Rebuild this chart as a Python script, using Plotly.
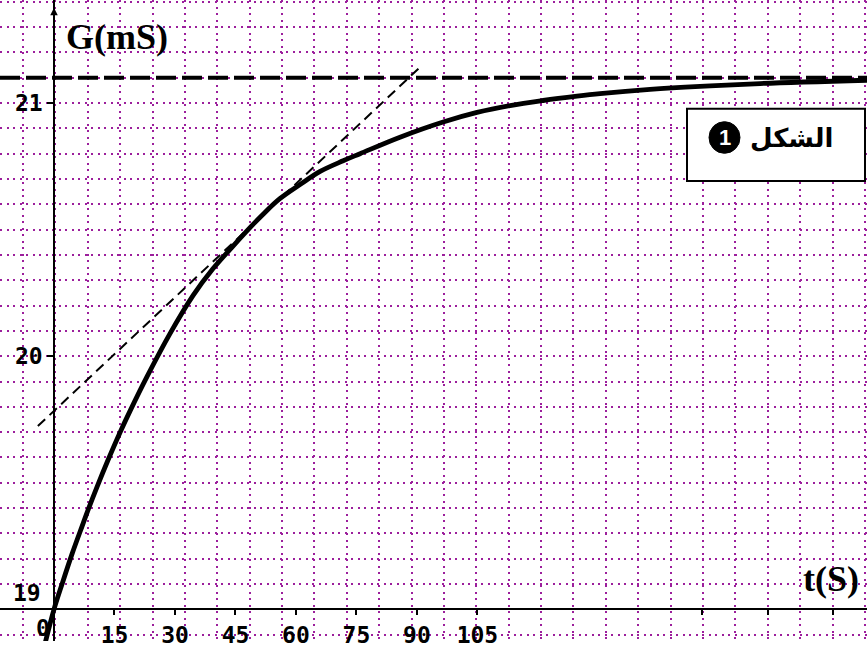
import plotly.graph_objects as go

# ---- data ----
t_curve = [-2.3, 0.0, 2.0, 4.5, 7.0, 8.5, 10.7, 13.4, 16.4, 18.9, 23.1, 28.8, 34.5,
           39.4, 44.4, 48.6, 51.8, 56.0, 61.0, 66.0, 71.7, 75.9, 85.8, 96.5, 104.9,
           113.1, 121.3, 129.7, 135.4, 147.8, 160.2, 175.1, 201.6]
g_curve = [18.86, 19.0, 19.10, 19.22, 19.33, 19.395, 19.485, 19.59, 19.70, 19.785, 19.92,
           20.09, 20.24, 20.345, 20.435, 20.508, 20.56, 20.622, 20.678, 20.73, 20.772, 20.80,
           20.865, 20.925, 20.963, 20.99, 21.01, 21.027, 21.037, 21.054, 21.066, 21.077, 21.09]

t_tangent = [-4.0, 90.8]
g_tangent = [19.724, 21.142]

g_limit = 21.1

t_ticks = [15, 30, 45, 60, 75, 90, 105, 160.7, 177.0, 193.2]
t_ticktext = ["15", "30", "45", "60", "75", "90", "105", "", "", ""]
g_ticks = [20, 21]
g_ticktext = ["20", "21"]

# axis windows
T_MIN, T_MAX = -13.39, 201.6
G_MIN, G_MAX = 18.875, 21.407
GRID_MIN, GRID_MAX = -0.710, 26.065   # vertical grid in grid units

W, H = 867, 648
GRID_COLOR = "#9c1f9c"
TICK_FONT = dict(family="DejaVu Sans Mono", size=23, color="black", weight="bold")

fig = go.Figure()

# dummy trace for the grid subplot
fig.add_trace(go.Scatter(x=[None], y=[None], xaxis="x", yaxis="y",
                         showlegend=False, hoverinfo="skip"))

# asymptote
fig.add_trace(go.Scatter(x=[T_MIN, T_MAX], y=[g_limit, g_limit], xaxis="x2", yaxis="y2",
                         mode="lines", line=dict(color="black", width=4, dash="20px,6px"),
                         showlegend=False, hoverinfo="skip"))
# tangent
fig.add_trace(go.Scatter(x=t_tangent, y=g_tangent, xaxis="x2", yaxis="y2",
                         mode="lines", line=dict(color="black", width=2, dash="10px,6px"),
                         showlegend=False, hoverinfo="skip"))
# conductance curve
fig.add_trace(go.Scatter(x=t_curve, y=g_curve, xaxis="x2", yaxis="y2",
                         mode="lines", line=dict(color="black", width=4.8, shape="spline",
                                                 smoothing=1.0),
                         showlegend=False, hoverinfo="skip"))

grid_common = dict(showgrid=True, gridcolor=GRID_COLOR, gridwidth=2, griddash="2px,4.5px",
                   showticklabels=False, ticks="", zeroline=False, showline=False,
                   fixedrange=True)

fig.update_layout(
    width=W, height=H, autosize=False,
    margin=dict(l=0, r=0, t=0, b=0),
    paper_bgcolor="white", plot_bgcolor="white",
    showlegend=False,
    xaxis=dict(range=[GRID_MIN, GRID_MAX], tick0=0, dtick=1, **grid_common),
    yaxis=dict(range=[G_MIN, G_MAX], tick0=21, dtick=0.1, **grid_common),
    xaxis2=dict(overlaying="x", anchor="free", position=(H - 616) / H,
                range=[T_MIN, T_MAX], tickmode="array", tickvals=t_ticks, ticktext=t_ticktext,
                ticks="outside", ticklen=5, tickwidth=1.5, tickcolor="black",
                showline=True, linecolor="black", linewidth=1.5,
                showgrid=False, zeroline=False, tickfont=TICK_FONT, fixedrange=True),
    yaxis2=dict(overlaying="y", anchor="free", position=54 / W, side="left",
                range=[G_MIN, G_MAX], tickmode="array", tickvals=g_ticks, ticktext=g_ticktext,
                ticks="outside", ticklen=6, tickwidth=1.5, tickcolor="black",
                showline=True, linecolor="black", linewidth=1.5,
                showgrid=False, zeroline=False, tickfont=TICK_FONT, fixedrange=True),
)

C = dict(xanchor="center", yanchor="middle", showarrow=False)
annotations = [
    # origin labels
    dict(x=0, y=19, xref="x2", yref="y2", text="0", font=TICK_FONT,
         xshift=-11, yshift=-19, **C),
    dict(x=0, y=19, xref="x2", yref="y2", text="19", font=TICK_FONT,
         xshift=-27, yshift=16, **C),
    # axis titles
    dict(x=117 / W, y=1 - 37 / H, xref="paper", yref="paper", text="<b>G(mS)</b>",
         font=dict(family="Liberation Serif", size=36, color="black"), **C),
    dict(x=831 / W, y=1 - 585 / H, xref="paper", yref="paper", text="<b>t(S)</b>",
         font=dict(family="Liberation Serif", size=36, color="black"), **C),
    # arrow on the vertical axis
    dict(x=0, y=21.376, xref="x2", yref="y2", text="", showarrow=True, ax=0, ay=18,
         arrowhead=2, arrowsize=1, arrowwidth=1.5, arrowcolor="black"),
    # caption
    dict(x=791 / W, y=1 - 140 / H, xref="paper", yref="paper", text="<b>الشكل</b>",
         font=dict(family="DejaVu Sans", size=26, color="black"), **C),
    dict(x=724.5 / W, y=1 - 139 / H, xref="paper", yref="paper", text="<b>1</b>",
         font=dict(family="Liberation Sans", size=22, color="white"), **C),
]
fig.update_layout(annotations=annotations)

fig.update_layout(shapes=[
    dict(type="rect", xref="paper", yref="paper", x0=687 / W, x1=865 / W,
         y0=1 - 183 / H, y1=1 - 110 / H, fillcolor="white",
         line=dict(color="black", width=2), layer="above"),
    dict(type="circle", xref="paper", yref="paper", x0=709 / W, x1=740 / W,
         y0=1 - 155 / H, y1=1 - 123 / H, fillcolor="black",
         line=dict(color="black", width=1), layer="above"),
])

fig.write_html("out.html", config={"displayModeBar": False},
               post_script="document.body.style.margin='0';"
                           "document.body.style.overflow='hidden';")
